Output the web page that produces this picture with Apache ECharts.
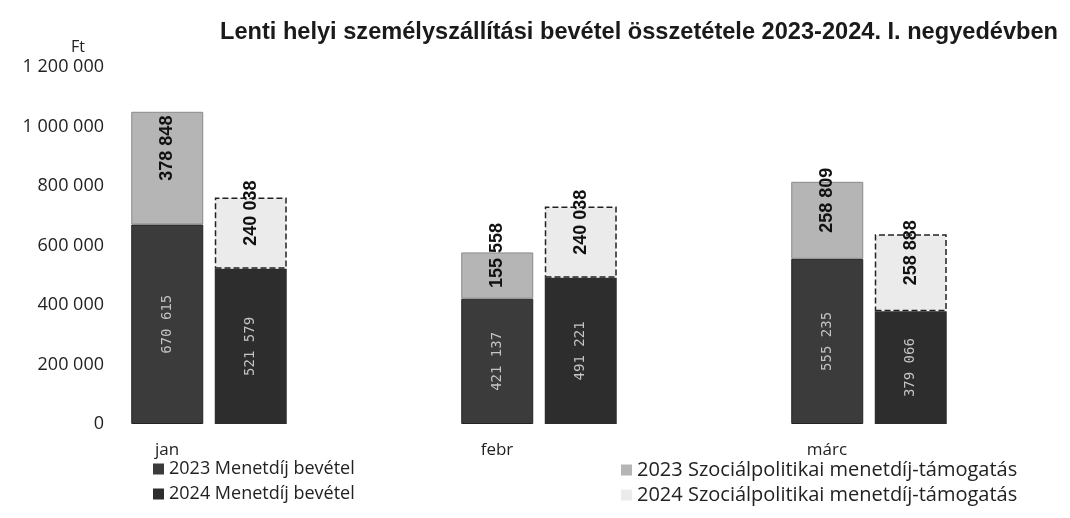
<!DOCTYPE html>
<html>
<head>
<meta charset="utf-8">
<script src="https://cdn.jsdelivr.net/npm/echarts@6/dist/echarts.min.js"></script>
<style>
  html, body { margin: 0; padding: 0; background: #fff; }
  #chart { width: 1070px; height: 518px; }
</style>
</head>
<body>
<div id="chart"></div>
<script>
const months = ['jan', 'febr', 'márc']
const menet2023 = [670615, 421137, 555235]
const szoc2023 = [378848, 155558, 258809]
const menet2024 = [521579, 491221, 379066]
const szoc2024 = [240038, 240038, 258888]
const yTicks = { min: 0, max: 1200000, interval: 200000 }

function ft (v) {
  return String(v).replace(/\B(?=(\d{3})+(?!\d))/g, ' ')
}

// rotated labels: offset is in the label's own frame, so x moves it up
const darkLabel = {
  show: true,
  position: 'inside',
  rotate: 90,
  color: '#c4c4c4',
  fontFamily: 'DejaVu Sans Mono',
  fontSize: 14,
  formatter: p => ft(p.value)
}
const lightLabel = {
  show: true,
  position: 'inside',
  rotate: 90,
  offset: [20, 0],
  color: '#111',
  fontFamily: 'Liberation Sans',
  fontWeight: 'bold',
  fontSize: 18,
  formatter: p => ft(p.value)
}

const myChart = echarts.init(document.getElementById('chart'))
myChart.setOption({
  animation: false,
  title: {
    text: 'Lenti helyi személyszállítási bevétel összetétele 2023-2024. I. negyedévben',
    left: 215,
    top: 15,
    textStyle: { fontFamily: 'Liberation Sans', fontWeight: 'bold', fontSize: 23.6, color: '#1a1a1a' }
  },
  legend: [
    {
      orient: 'vertical',
      left: 148,
      top: 455,
      icon: 'rect',
      itemWidth: 11,
      itemHeight: 11,
      itemGap: 7,
      itemStyle: { borderWidth: 0 },
      textStyle: { fontFamily: 'Open Sans', fontSize: 18, color: '#222' },
      data: ['2023 Menetdíj bevétel', '2024 Menetdíj bevétel']
    },
    {
      orient: 'vertical',
      left: 616,
      top: 455,
      icon: 'rect',
      itemWidth: 11,
      itemHeight: 11,
      itemGap: 5,
      itemStyle: { borderWidth: 0 },
      textStyle: { fontFamily: 'Open Sans', fontSize: 20, color: '#222' },
      data: ['2023 Szociálpolitikai menetdíj-támogatás', '2024 Szociálpolitikai menetdíj-támogatás']
    }
  ],
  grid: { left: 44, right: 36, top: 67, bottom: 94 },
  xAxis: {
    type: 'category',
    data: months,
    axisLine: { show: false },
    axisTick: { show: false },
    axisLabel: { color: '#222', fontFamily: 'Open Sans', fontSize: 17, margin: 18, padding: [0, 84, 0, 0] }
  },
  yAxis: {
    type: 'value',
    min: yTicks.min,
    max: yTicks.max,
    interval: yTicks.interval,
    offset: -66,
    name: 'Ft',
    nameGap: 12,
    nameTextStyle: { color: '#222', fontFamily: 'Open Sans', fontSize: 16, padding: [0, 64, 0, 0] },
    splitLine: { show: false },
    axisLine: { show: false },
    axisTick: { show: false },
    axisLabel: { color: '#222', fontFamily: 'Open Sans', fontSize: 18, margin: 6, formatter: v => ft(v) }
  },
  series: [
    {
      name: '2023 Menetdíj bevétel',
      type: 'bar',
      stack: '2023',
      barWidth: 72,
      barGap: '16%',
      data: menet2023,
      itemStyle: { color: '#3b3b3b', borderColor: '#222', borderWidth: 1 },
      label: darkLabel
    },
    {
      name: '2023 Szociálpolitikai menetdíj-támogatás',
      type: 'bar',
      stack: '2023',
      barWidth: 72,
      data: szoc2023,
      itemStyle: { color: '#b5b5b5', borderColor: '#8a8a8a', borderWidth: 1 },
      label: lightLabel
    },
    {
      name: '2024 Menetdíj bevétel',
      type: 'bar',
      stack: '2024',
      barWidth: 72,
      barGap: '16%',
      data: menet2024,
      itemStyle: { color: '#2d2d2d' },
      label: darkLabel
    },
    {
      name: '2024 Szociálpolitikai menetdíj-támogatás',
      type: 'bar',
      stack: '2024',
      barWidth: 72,
      data: szoc2024,
      itemStyle: { color: '#ebebeb', borderColor: '#222', borderWidth: 1.5, borderType: 'dashed' },
      label: lightLabel
    }
  ]
})
</script>
</body>
</html>
